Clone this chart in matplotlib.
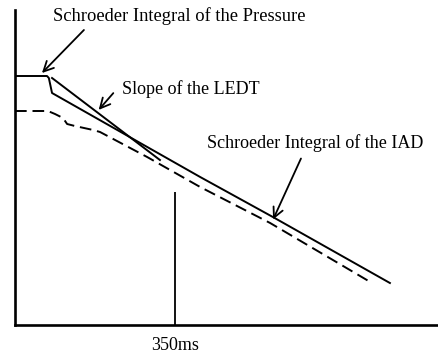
# decay curves: schroeder integrals and LEDT slope

import matplotlib.pyplot as plt

# time in ms, level in dB (0 dB = start of the pressure integral)
pressure_t = [0, 70, 74, 81, 405, 564, 820]
pressure_db = [0, 0, -0.4, -3.4, -20.2, -28.2, -41.4]

ledt_t = [81, 317]
ledt_db = [-0.4, -16.8]

iad_t = [0, 72, 87.5, 105, 114, 131, 171, 186, 289, 405, 558, 777]
iad_db = [-7.0, -7.0, -7.6, -8.4, -9.6, -10.0, -10.8, -11.2, -16.2, -22.2, -29.4, -41.2]

marker_t = 350
marker_top = -23.2
tick_labels = ['350ms']

plt.rcParams['font.family'] = ['Liberation Serif', 'DejaVu Serif']

fig = plt.figure(figsize=(4.38, 3.56), dpi=100)
ax = fig.add_axes([15/438, 31/356, 422/438, 315/356])

ax.plot(pressure_t, pressure_db, color='black', lw=1.4)
ax.plot(ledt_t, ledt_db, color='black', lw=1.4)
ax.plot(iad_t, iad_db, color='black', lw=1.4, dashes=(6, 3))
ax.vlines(marker_t, -49.8, marker_top, color='black', lw=1.3)

ax.set_xlim(0, 923)
ax.set_ylim(-49.8, 13.2)

ax.spines['top'].set_visible(False)
ax.spines['right'].set_visible(False)
ax.spines['left'].set_linewidth(1.9)
ax.spines['bottom'].set_linewidth(1.9)

ax.set_yticks([])
ax.set_xticks([marker_t])
ax.set_xticklabels(tick_labels, fontsize=13)
ax.tick_params(axis='x', length=0, pad=9)

arrow = dict(arrowstyle='->', color='black', lw=1.3, mutation_scale=18)

# labels + arrows
ax.text(83, 12.0, 'Schroeder Integral of the Pressure', fontsize=13.3, va='center', ha='left')
ax.annotate('', xy=(54.7, 0.2), xytext=(155, 9.6), arrowprops=arrow)

ax.text(234, -2.6, 'Slope of the LEDT', fontsize=13, va='center', ha='left')
ax.annotate('', xy=(179, -7.2), xytext=(219, -3.0), arrowprops=arrow)

ax.text(420, -13.4, 'Schroeder Integral of the IAD', fontsize=13, va='center', ha='left')
ax.annotate('', xy=(562, -29.2), xytext=(628, -16.0), arrowprops=arrow)

plt.savefig('out.png', dpi=100)
